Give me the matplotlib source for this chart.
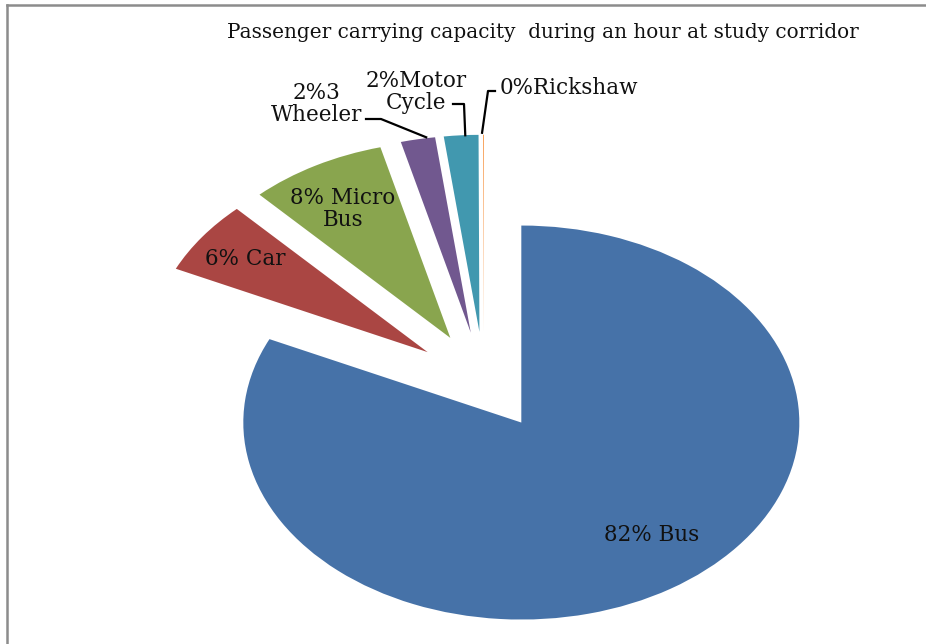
import numpy as np
import matplotlib
matplotlib.use("Agg")
import matplotlib.pyplot as plt
from matplotlib.lines import Line2D

# ---- data ----
categories = ["Bus", "Car", "Micro\nBus", "3\nWheeler", "Motor\nCycle", "Rickshaw"]
values = [82, 6, 8, 2, 2, 0.05]
colors = ["#4672a8", "#aa4643", "#89a54e", "#71588f", "#4198af", "#f79646"]
title = "Passenger carrying capacity  during an hour at study corridor"

# ---- layout ----
W, H = 926, 644
CX, CY, RX, RY = 484, 381, 278, 197  # pixel centre / radii of the (stretched) pie
EXPLODE = 0.25

fig = plt.figure(figsize=(W / 100, H / 100), dpi=100)
ax = fig.add_axes([0, 0, 1, 1])
ax.pie(values, colors=colors, startangle=90, counterclock=False,
       explode=[EXPLODE] * len(values), radius=1, center=(0, 0),
       wedgeprops=dict(linewidth=0))
ax.set_aspect("auto")
ax.set_xlim(-CX / RX, (W - CX) / RX)
ax.set_ylim((CY - H) / RY, CY / RY)
ax.axis("off")

def px(x, y):
    return ((x - CX) / RX, (CY - y) / RY)

total = sum(values)
pcts = [round(v / total * 100) for v in values]
sep = ["% ", "% ", "% ", "%", "%", "%"]
labels = [f"{p}{s}{c}" for p, s, c in zip(pcts, sep, categories)]
labels[3] = f"{pcts[3]}%3\nWheeler"

font = dict(family="DejaVu Serif", color="#111111")
lab_pos = [(652, 535), (245, 259), (343, 209), (317, 104), (416, 92), (569, 88)]
for lab, (x, y) in zip(labels, lab_pos):
    ax.text(*px(x, y), lab, ha="center", va="center", fontsize=15.5,
            linespacing=1.0, **font)

# angles of wedge mid-points
cum = np.cumsum([0] + values)
mids = [90 - (cum[i] + values[i] / 2) / total * 360 for i in range(len(values))]

def outer(i, r=1.0 + EXPLODE):
    a = np.deg2rad(mids[i])
    return r * np.cos(a), r * np.sin(a)

# leader lines
lw = 1.6
ex, ey = outer(3)
ax.add_line(Line2D([px(366, 119)[0], px(381, 119)[0], ex + 0.03],
                   [px(366, 119)[1], px(381, 119)[1], ey + 0.01], color="black", lw=lw))
ex, ey = outer(4)
ax.add_line(Line2D([px(453, 104)[0], px(464, 104)[0], ex + 0.015],
                   [px(453, 104)[1], px(464, 104)[1], ey], color="black", lw=lw))
ex, ey = outer(5)
ax.add_line(Line2D([ex - 0.005, px(488, 91)[0], px(495, 91)[0]],
                   [ey + 0.01, px(488, 91)[1], px(495, 91)[1]], color="black", lw=lw))

fig.text(543 / W, 1 - 32 / H, title, ha="center", va="center", fontsize=14.4, **font)

# chart frame (top and left edges visible)
fig.add_artist(Line2D([7 / W, 1], [1 - 5 / H, 1 - 5 / H], color="#8c8c8c", lw=1.8))
fig.add_artist(Line2D([7 / W, 7 / W], [0, 1 - 5 / H], color="#8c8c8c", lw=1.8))

fig.savefig("out.png", dpi=100)
